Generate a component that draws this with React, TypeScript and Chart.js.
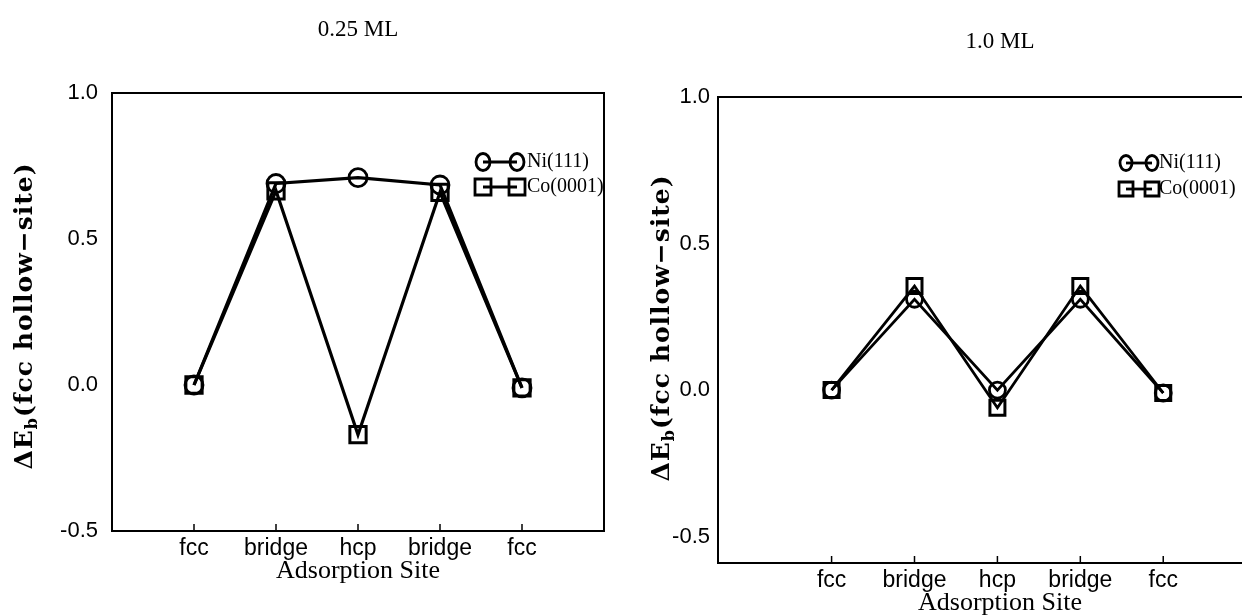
import React, { useEffect, useRef } from "react";
import { Chart, registerables } from "chart.js";

Chart.register(...registerables);

// ---------- data ----------
const sites = ["fcc", "bridge", "hcp", "bridge", "fcc"];
const siteIndex = [0, 1, 2, 3, 4];
const yTickValues = [1.0, 0.5, 0.0, -0.5];
const seriesNames = ["Ni(111)", "Co(0001)"];
const panelTitles = ["0.25 ML", "1.0 ML"];
const xAxisTitle = "Adsorption Site";

const ni025 = [0.0, 0.69, 0.71, 0.685, -0.01];
const co025 = [0.0, 0.665, -0.17, 0.66, -0.01];
const ni10 = [0.0, 0.31, 0.0, 0.31, -0.01];
const co10 = [0.0, 0.355, -0.06, 0.355, -0.01];

// ---------- layout ----------
const H = 615;
const panels = [
  {
    left: 0,
    width: 620,
    area: { left: 112, top: 93, right: 604, bottom: 531 },
    xMin: -1,
    xMax: 5,
    yMin: -0.5,
    yMax: 1.0,
    title: panelTitles[0],
    titlePos: [358, 30],
    xTitlePos: [358, 571],
    yTitlePos: [25, 316],
    legend: { x1: 483, x2: 517, tx: 527, y1: 162, y2: 187, m: 8 },
    ni: ni025,
    co: co025,
    lw: 3.2,
    circleR: 9,
    rectR: 11.5,
    yPad: 14,
    openRight: false,
  },
  {
    left: 620,
    width: 622,
    area: { left: 98, top: 97, right: 622, bottom: 563 },
    xMin: -1.37,
    xMax: 4.95,
    yMin: -0.59,
    yMax: 1.0,
    title: panelTitles[1],
    titlePos: [380, 42],
    xTitlePos: [380, 603],
    yTitlePos: [42, 328],
    legend: { x1: 506, x2: 532, tx: 539, y1: 163, y2: 189, m: 7 },
    ni: ni10,
    co: co10,
    lw: 2.8,
    circleR: 8,
    rectR: 10.6,
    yPad: 8,
    openRight: true,
  },
];

const serif = '"Liberation Serif", "Times New Roman", serif';
const sans = '"Liberation Sans", Arial, sans-serif';

const decorPlugin = {
  id: "decor",
  afterDraw(chart: any, _args: any, opts: any) {
    const ctx = chart.ctx as CanvasRenderingContext2D;
    const a = chart.chartArea;
    const xs = chart.scales.x;
    ctx.save();
    // frame
    ctx.strokeStyle = "#000";
    ctx.lineWidth = 2;
    const r = opts.openRight ? a.right + 10 : a.right;
    ctx.strokeRect(a.left, a.top, r - a.left, a.bottom - a.top);
    // inward ticks on x axis
    ctx.lineWidth = 1.5;
    siteIndex.forEach((v) => {
      const px = xs.getPixelForValue(v);
      ctx.beginPath();
      ctx.moveTo(px, a.bottom);
      ctx.lineTo(px, a.bottom - 7);
      ctx.stroke();
    });

    ctx.fillStyle = "#000";
    // panel title
    ctx.font = `23px ${serif}`;
    ctx.textAlign = "center";
    ctx.textBaseline = "middle";
    ctx.fillText(opts.title, opts.titlePos[0], opts.titlePos[1]);
    // x axis title
    ctx.font = `26px ${serif}`;
    ctx.fillText(xAxisTitle, opts.xTitlePos[0], opts.xTitlePos[1]);

    // y axis title with subscript
    ctx.save();
    ctx.translate(opts.yTitlePos[0], opts.yTitlePos[1]);
    ctx.rotate(-Math.PI / 2);
    const size = 25;
    const big = `bold ${size}px "DejaVu Serif", serif`;
    const small = `bold ${Math.round(size * 0.62)}px "DejaVu Serif", serif`;
    (ctx as any).letterSpacing = "1px";
    const parts: [string, string, number][] = [
      ["\u0394E", big, 0],
      ["b", small, size * 0.32],
      ["(fcc hollow\u2212site)", big, 0],
    ];
    let total = 0;
    parts.forEach(([t, f]) => {
      ctx.font = f;
      total += ctx.measureText(t).width;
    });
    let cx = -total / 2;
    ctx.textAlign = "left";
    ctx.textBaseline = "middle";
    parts.forEach(([t, f, dy]) => {
      ctx.font = f;
      ctx.fillText(t, cx, dy);
      cx += ctx.measureText(t).width;
    });
    (ctx as any).letterSpacing = "0px";
    ctx.restore();

    // legend
    const L = opts.legend;
    ctx.lineWidth = 2.8;
    const rows: [number, string][] = [
      [L.y1, "circle"],
      [L.y2, "rect"],
    ];
    rows.forEach(([y, style], i) => {
      ctx.beginPath();
      ctx.moveTo(L.x1, y);
      ctx.lineTo(L.x2, y);
      ctx.stroke();
      [L.x1, L.x2].forEach((mx) => {
        ctx.beginPath();
        if (style === "circle") {
          ctx.ellipse(mx, y, L.m - 1, L.m + 0.5, 0, 0, Math.PI * 2);
        } else {
          ctx.rect(mx - L.m, y - L.m, 2 * L.m, 2 * L.m);
        }
        ctx.stroke();
      });
      ctx.font = `20px ${serif}`;
      ctx.textAlign = "left";
      ctx.textBaseline = "middle";
      ctx.fillText(seriesNames[i], L.tx, y);
    });
    ctx.restore();
  },
};

function Panel({ cfg }: { cfg: any }) {
  const ref = useRef<HTMLCanvasElement>(null);
  useEffect(() => {
    const a = cfg.area;
    const mk = (vals: number[]) => siteIndex.map((x, i) => ({ x, y: vals[i] }));
    const chart = new Chart(ref.current as HTMLCanvasElement, {
      type: "line",
      data: {
        datasets: [
          {
            label: seriesNames[0],
            data: mk(cfg.ni),
            borderColor: "#000",
            borderWidth: cfg.lw,
            pointStyle: "circle",
            pointRadius: cfg.circleR,
            pointBorderWidth: 2.8,
            pointBorderColor: "#000",
            pointBackgroundColor: "rgba(0,0,0,0)",
            tension: 0,
          },
          {
            label: seriesNames[1],
            data: mk(cfg.co),
            borderColor: "#000",
            borderWidth: cfg.lw,
            pointStyle: "rect",
            pointRadius: cfg.rectR,
            pointBorderWidth: 3,
            pointBorderColor: "#000",
            pointBackgroundColor: "rgba(0,0,0,0)",
            tension: 0,
          },
        ],
      },
      options: {
        animation: false,
        responsive: false,
        maintainAspectRatio: false,
        layout: {
          autoPadding: false,
          padding: { top: a.top, right: cfg.width - a.right, left: 0, bottom: 0 },
        },
        plugins: {
          legend: { display: false },
          title: { display: false },
          tooltip: { enabled: false },
          decor: cfg,
        } as any,
        scales: {
          x: {
            type: "linear",
            min: cfg.xMin,
            max: cfg.xMax,
            grid: { display: false, drawTicks: false },
            border: { display: false },
            afterFit: (s: any) => {
              s.height = H - a.bottom;
            },
            afterBuildTicks: (s: any) => {
              s.ticks = siteIndex.map((v) => ({ value: v }));
            },
            ticks: {
              autoSkip: false,
              maxRotation: 0,
              padding: 4,
              color: "#000",
              font: { family: sans, size: 23 },
              callback: (v: any) => sites[v] ?? "",
            },
          },
          y: {
            type: "linear",
            min: cfg.yMin,
            max: cfg.yMax,
            grid: { display: false, drawTicks: false },
            border: { display: false },
            afterFit: (s: any) => {
              s.width = a.left;
            },
            afterBuildTicks: (s: any) => {
              s.ticks = yTickValues.map((v) => ({ value: v }));
            },
            ticks: {
              padding: cfg.yPad,
              color: "#000",
              font: { family: sans, size: 22 },
              callback: (v: any) => Number(v).toFixed(1),
            },
          },
        },
      } as any,
      plugins: [decorPlugin],
    });
    return () => chart.destroy();
  }, [cfg]);
  return (
    <div style={{ position: "absolute", left: cfg.left, top: 0, width: cfg.width, height: H }}>
      <canvas ref={ref} width={cfg.width} height={H} style={{ display: "block" }} />
    </div>
  );
}

export default function App() {
  return (
    <div
      style={{
        position: "absolute",
        left: 0,
        top: 0,
        width: 1242,
        height: H,
        background: "#fff",
        overflow: "hidden",
      }}
    >
      {panels.map((p, i) => (
        <Panel key={i} cfg={p} />
      ))}
    </div>
  );
}
